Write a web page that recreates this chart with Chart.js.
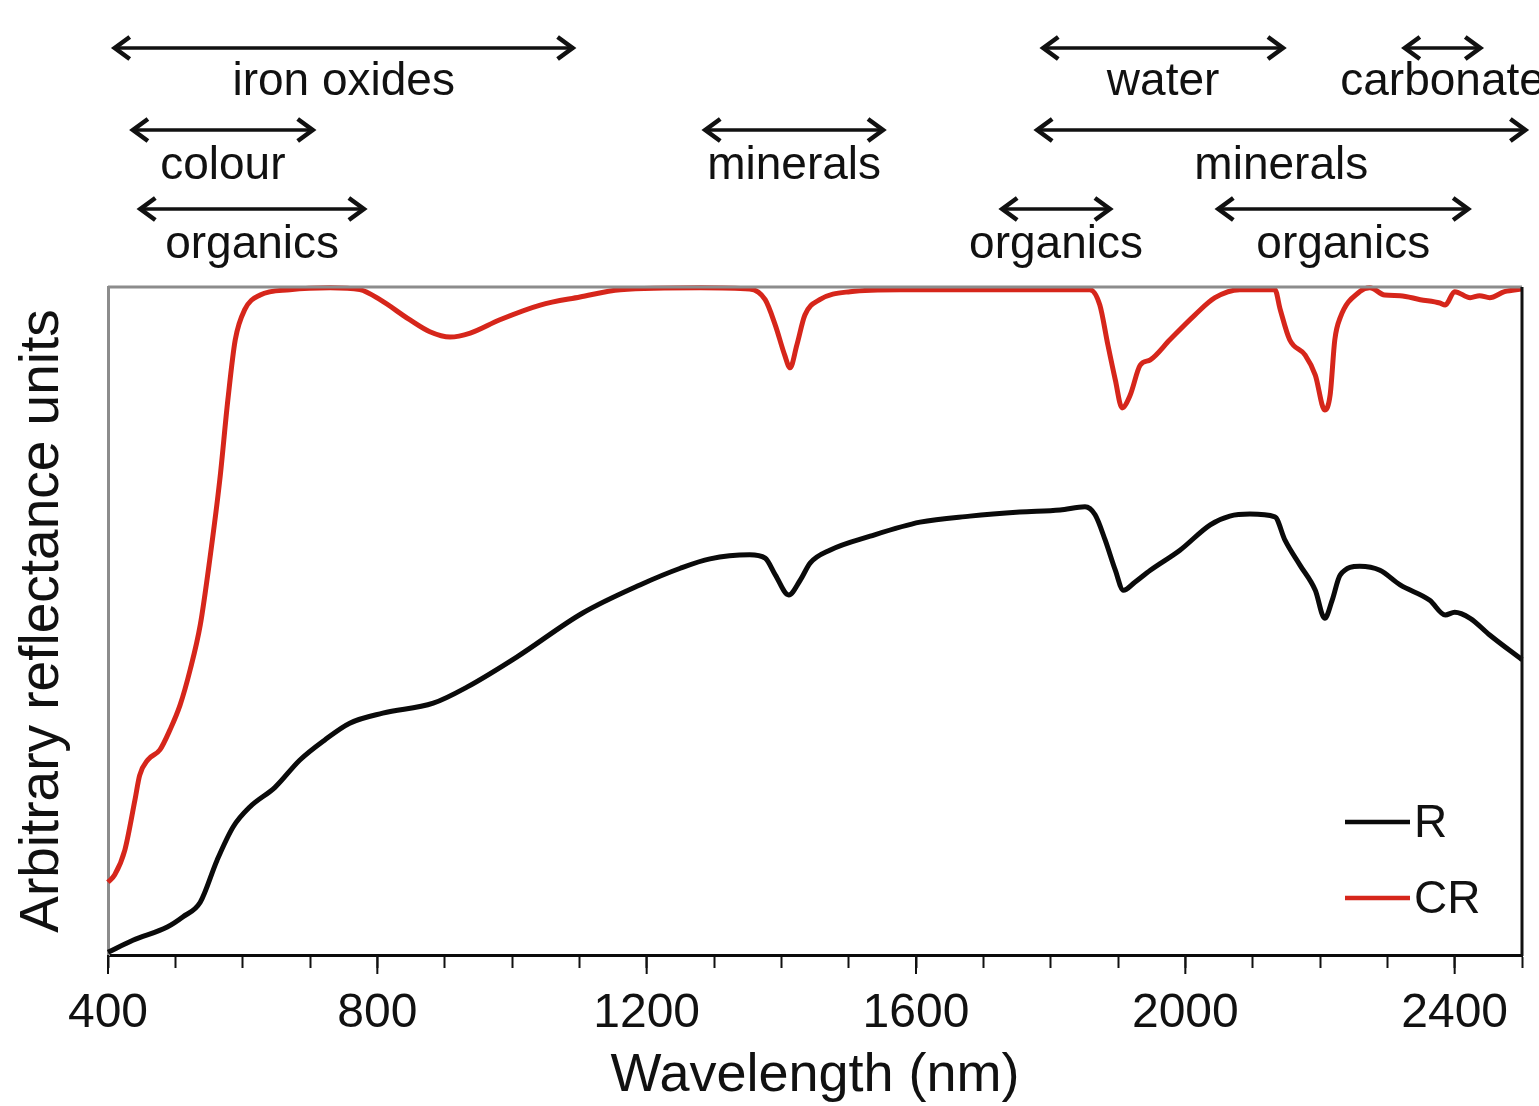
<!DOCTYPE html>
<html>
<head>
<meta charset="utf-8">
<script src="https://cdn.jsdelivr.net/npm/chart.js@4.4.1/dist/chart.umd.min.js"></script>
<style>
    html, body { margin: 0; padding: 0; background: #fff; }
    #wrap { width: 1539px; height: 1106px; }
</style>
</head>
<body>
<div id="wrap"><canvas id="spectraChart" width="1539" height="1106"></canvas></div>
<script>
// Reflectance spectrum (R) and continuum removed spectrum (CR)
const rWavelength = [400, 437, 488, 511, 537, 562, 586, 611, 648, 685, 722, 759, 808, 883, 933, 1007, 1105,
    1190, 1250, 1294, 1353, 1376, 1391, 1411, 1428, 1443, 1472, 1532, 1606, 1680, 1754, 1814, 1851, 1866,
    1881, 1896, 1908, 1925, 1948, 1992, 2037, 2066, 2096, 2133, 2148, 2170, 2193, 2207, 2218, 2230, 2259,
    2289, 2319, 2363, 2386, 2400, 2423, 2452, 2500];
const rValues = [0.4, 2.2, 4.2, 5.7, 7.9, 14.2, 19.2, 22.2, 25.1, 29.2, 32.2, 34.7, 36.2, 37.7, 40.1, 44.6, 51.2,
    55.4, 57.9, 59.3, 59.9, 59.4, 56.9, 53.9, 56.1, 58.7, 60.6, 62.7, 64.8, 65.7, 66.3, 66.6, 67.1, 65.9,
    62.1, 57.6, 54.6, 55.8, 57.6, 60.6, 64.4, 65.7, 66.0, 65.6, 62.1, 58.4, 54.6, 50.4, 53.1, 56.9, 58.2,
    57.6, 55.4, 53.1, 50.9, 51.3, 50.4, 47.9, 44.2];

const crWavelength = [400, 410, 425, 440, 447, 459, 477, 492, 507, 522, 537, 551, 566, 578, 589, 603, 626,
    670, 730, 774, 804, 848, 878, 908, 938, 982, 1042, 1101, 1161, 1280, 1353, 1376, 1391, 1405, 1413,
    1423, 1435, 1457, 1502, 1577, 1725, 1858, 1873, 1885, 1896, 1906, 1918, 1933, 1948, 1977, 2014, 2044,
    2081, 2133, 2141, 2155, 2178, 2193, 2207, 2215, 2222, 2230, 2259, 2274, 2296, 2319, 2349, 2378, 2386,
    2400, 2423, 2437, 2452, 2474, 2500];
const crValues = [10.9, 12.0, 15.7, 23.2, 26.9, 29.2, 30.7, 33.7, 37.4, 42.7, 49.4, 59.1, 71.1, 83.1, 92.1, 96.6, 98.8,
    99.6, 99.9, 99.6, 98.1, 95.1, 93.3, 92.5, 93.1, 95.1, 97.3, 98.5, 99.6, 99.9, 99.7, 98.1, 94.3, 89.8, 87.9,
    91.3, 95.8, 98.1, 99.3, 99.6, 99.6, 99.6, 97.3, 91.3, 86.1, 81.9, 83.8, 88.3, 89.1, 92.1, 95.8, 98.4,
    99.6, 99.6, 96.6, 92.1, 89.8, 86.8, 81.6, 83.8, 92.1, 95.4, 99.3, 99.9, 98.8, 98.7, 98.1, 97.6, 97.3,
    99.3, 98.4, 98.7, 98.4, 99.3, 99.7];

// Absorption feature bands drawn above the plot (nm ranges, row 0 = top)
const bandLabels = ['iron oxides', 'water', 'carbonate', 'colour', 'minerals', 'minerals', 'organics', 'organics', 'organics'];
const bandStart  = [410, 1789, 2326, 437, 1287, 1780, 448, 1728, 2049];
const bandEnd    = [1090, 2145, 2438, 704, 1551, 2505, 780, 1888, 2420];
const bandRow    = [0, 0, 0, 1, 1, 1, 2, 2, 2];

const xTicksMajor = [400, 800, 1200, 1600, 2000, 2400];

function toPoints(xs, ys) {
    return xs.map((x, i) => ({ x: x, y: ys[i] }));
}

function drawArrow(ctx, x1, x2, y) {
    const head = 15;
    ctx.beginPath();
    ctx.moveTo(x1 + 2, y);
    ctx.lineTo(x2 - 2, y);
    ctx.lineWidth = 3.5;
    ctx.stroke();
    ctx.lineWidth = 4.5;
    ctx.beginPath();
    ctx.moveTo(x1 + head, y - 11);
    ctx.lineTo(x1, y);
    ctx.lineTo(x1 + head, y + 11);
    ctx.moveTo(x2 - head, y - 11);
    ctx.lineTo(x2, y);
    ctx.lineTo(x2 - head, y + 11);
    ctx.stroke();
}

// bands, frame and inline legend
const decorPlugin = {
    id: 'decor',
    afterDraw(chart) {
        const ctx = chart.ctx;
        const area = chart.chartArea;
        const xs = chart.scales.x;
        const arrowY = [48, 130, 209];
        const textY = [80, 164, 243];

        ctx.save();
        // top and right frame
        ctx.strokeStyle = '#8c8c8c';
        ctx.lineWidth = 3;
        ctx.beginPath();
        ctx.moveTo(area.left, area.top);
        ctx.lineTo(area.right, area.top);
        ctx.stroke();
        ctx.strokeStyle = '#111';
        ctx.beginPath();
        ctx.moveTo(area.right, area.top);
        ctx.lineTo(area.right, area.bottom + 1);
        ctx.stroke();

        // longer major ticks
        ctx.lineWidth = 2;
        xTicksMajor.forEach(v => {
            const px = xs.getPixelForValue(v);
            ctx.beginPath();
            ctx.moveTo(px, area.bottom);
            ctx.lineTo(px, area.bottom + 19);
            ctx.stroke();
        });

        // bands
        ctx.strokeStyle = '#111';
        ctx.fillStyle = '#111';
        ctx.font = '46px "Liberation Sans", Arial, sans-serif';
        ctx.textAlign = 'center';
        ctx.textBaseline = 'middle';
        bandLabels.forEach((label, i) => {
            const x1 = xs.getPixelForValue(bandStart[i]);
            const x2 = xs.getPixelForValue(bandEnd[i]);
            drawArrow(ctx, x1, x2, arrowY[bandRow[i]]);
            ctx.fillText(label, (x1 + x2) / 2, textY[bandRow[i]] + 2);
        });

        // legend
        ctx.textAlign = 'left';
        ctx.font = '46px "Liberation Sans", Arial, sans-serif';
        const legendY = [area.bottom - 133, area.bottom - 57];
        chart.data.datasets.forEach((ds, i) => {
            ctx.strokeStyle = ds.borderColor;
            ctx.lineWidth = 4.5;
            ctx.beginPath();
            ctx.moveTo(area.right - 177, legendY[i]);
            ctx.lineTo(area.right - 112, legendY[i]);
            ctx.stroke();
            ctx.fillStyle = '#111';
            ctx.fillText(ds.label, area.right - 108, legendY[i] + 2);
        });
        ctx.restore();
    }
};

const ctx = document.getElementById('spectraChart').getContext('2d');
const spectraChart = new Chart(ctx, {
    type: 'line',
    data: {
        datasets: [
            {
                label: 'R',
                data: toPoints(rWavelength, rValues),
                borderColor: '#0a0a0a',
                borderWidth: 5,
                pointRadius: 0,
                cubicInterpolationMode: 'monotone',
                clip: 6
            },
            {
                label: 'CR',
                data: toPoints(crWavelength, crValues),
                borderColor: '#d6261b',
                borderWidth: 5,
                pointRadius: 0,
                cubicInterpolationMode: 'monotone',
                clip: 6
            }
        ]
    },
    options: {
        responsive: false,
        animation: false,
        layout: {
            padding: { top: 287, right: 17, bottom: 0, left: 0 }
        },
        plugins: {
            legend: { display: false },
            tooltip: { enabled: false }
        },
        scales: {
            x: {
                type: 'linear',
                min: 400,
                max: 2500,
                afterFit: scale => { scale.height = 151; },
                grid: {
                    display: true,
                    drawOnChartArea: false,
                    drawTicks: true,
                    tickLength: 13,
                    tickWidth: 2,
                    tickColor: '#111'
                },
                border: { display: true, color: '#0a0a0a', width: 3 },
                ticks: {
                    stepSize: 100,
                    autoSkip: false,
                    maxRotation: 0,
                    padding: 17,
                    color: '#111',
                    font: { family: '"Liberation Sans", Arial, sans-serif', size: 48 },
                    callback: v => (v % 400 === 0 ? String(v) : '')
                },
                title: {
                    display: true,
                    text: 'Wavelength (nm)',
                    color: '#111',
                    font: { family: '"Liberation Sans", Arial, sans-serif', size: 54, lineHeight: 1 },
                    padding: { top: 0, bottom: 3 }
                }
            },
            y: {
                min: 0,
                max: 100,
                afterFit: scale => { scale.width = 108; },
                grid: { display: false },
                border: { display: true, color: '#8c8c8c', width: 3 },
                ticks: { display: false },
                title: {
                    display: true,
                    text: 'Arbitrary reflectance units',
                    color: '#111',
                    font: { family: '"Liberation Sans", Arial, sans-serif', size: 55, lineHeight: 1 },
                    padding: { top: 15, bottom: 0 }
                }
            }
        }
    },
    plugins: [decorPlugin]
});
</script>
</body>
</html>
